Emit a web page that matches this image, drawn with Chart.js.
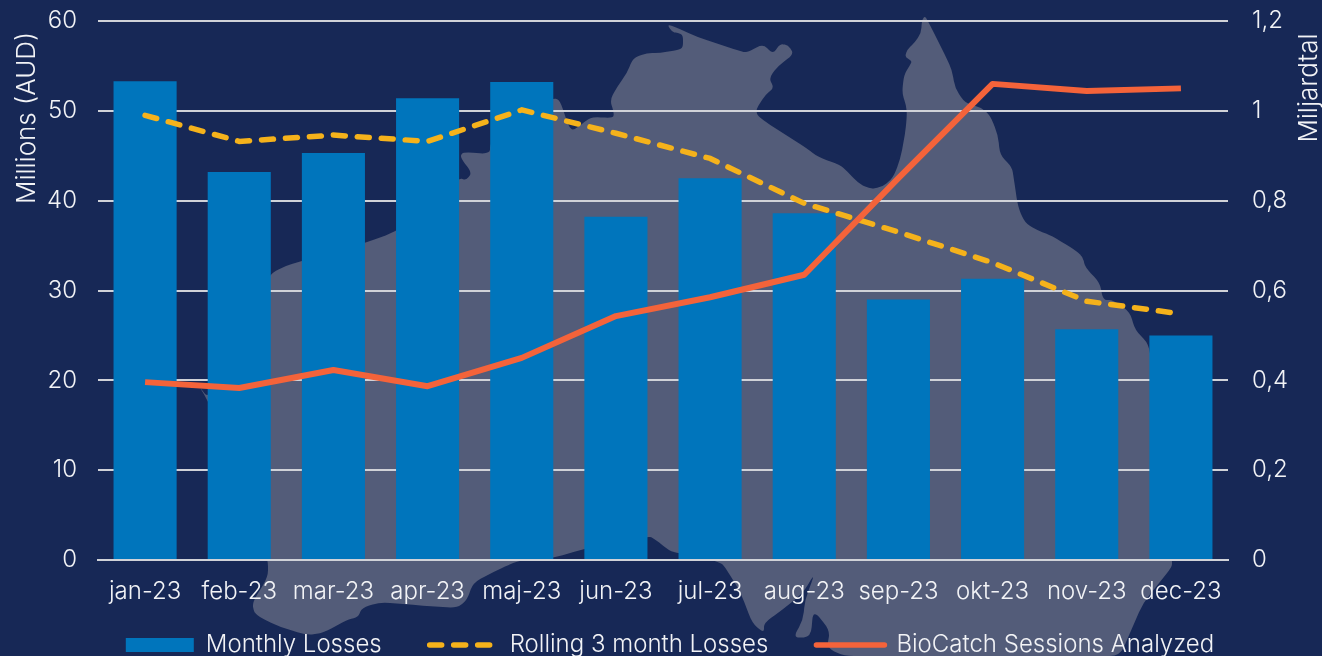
<!DOCTYPE html>
<html>
<head>
<meta charset="utf-8">
<style>
html,body{margin:0;padding:0;width:1322px;height:656px;overflow:hidden;background:#172856}
#map{position:absolute;left:0;top:0}
#c{position:absolute;left:0;top:0}
</style>
<script src="https://cdn.jsdelivr.net/npm/chart.js@4"></script>
</head>
<body>
<svg id="map" width="1322" height="656" viewBox="0 0 1322 656">
<path id="land" fill="#535C79"/>
</svg>
<canvas id="c" width="1322" height="656"></canvas>
<script>
const categories = ["jan-23","feb-23","mar-23","apr-23","maj-23","jun-23","jul-23","aug-23","sep-23","okt-23","nov-23","dec-23"];
const monthlyLosses = [53.3,43.2,45.3,51.4,53.2,38.2,42.5,38.6,29.0,31.3,25.7,25.0];
const rollingLosses = [49.5,46.6,47.3,46.6,50.1,47.5,44.7,39.7,36.5,33.1,28.8,27.4];
const sessionsAnalyzed = [0.396,0.383,0.423,0.387,0.45,0.543,0.585,0.635,0.85,1.06,1.044,1.05];
const leftTitle = "Millions (AUD)";
const rightTitle = "Miljardtal";

/* decorative background silhouette, not chart data */
const coast = "199,386 208,398 270,274 285,266 302,261 365,243 395,232 430,205 459,178 466,180 472,173 460,157 463,152 490,154 490,143 530,110 553,98 560,100 568,125 573,131 587,120 593,117 613,118 614,113 610,100 617,87 627,73 633,58 647,53 660,53 677,50 683,48 683,35 678,33 672,32 667,24 680,29 697,37 743,52 748,52 763,44 773,54 780,44 788,45 794,54 778,66 769,78 774,88 765,95 754,113 770,125 805,147 818,157 840,165 848,172 858,183 870,189 882,187 893,178 900,160 905,135 907,115 906,105 902,93 904,75 910,65 912,61 905,57 907,50 915,42 921,33 922,20 925,16 930,25 945,55 952,70 955,88 965,103 980,107 990,115 998,135 1000,155 1012,167 1014,180 1018,207 1025,223 1037,230 1052,236 1075,250 1083,257 1085,267 1100,283 1103,300 1113,300 1130,312 1135,330 1149,344 1172,560 1172,567 1143,603 1120,656 844,656 827,648 830,630 813,610 811,637 793,638 803,620 805,600 815,573 803,593 782,610 764,623 764,633 752,623 741,593 725,567 721,563 705,558 678,553 670,551 652,537 647,537 584,549 553,558 523,560 513,563 493,572 473,583 467,600 457,608 413,605 380,602 362,608 358,617 347,620 323,633 307,635 280,627 255,615 252,603 268,577 268,560 208,401"
  .split(" ").map(p=>p.split(",").map(Number));
(function(){
  const n = coast.length; let d = "";
  for(let i=0;i<n;i++){
    const p=coast[(i+n-1)%n], q=coast[i], r=coast[(i+1)%n];
    const cut=(a,b)=>{const L=Math.hypot(a[0]-b[0],a[1]-b[1]);const t=Math.min(0.4,10/L);return [b[0]+(a[0]-b[0])*t,b[1]+(a[1]-b[1])*t];};
    const s=cut(p,q), e=cut(r,q);
    d += (i?"L":"M")+s[0].toFixed(1)+" "+s[1].toFixed(1)+"Q"+q[0]+" "+q[1]+" "+e[0].toFixed(1)+" "+e[1].toFixed(1);
  }
  document.getElementById("land").setAttribute("d",d+"Z");
})();

const FONT = "Inter";
const WEIGHT = 300;
const TICK = {family:FONT,size:24,weight:WEIGHT};
const TEXT = "#F2F3F6";
const GRID = "#D0D2D8";

const titlesPlugin = {
  id: "placedTitles",
  afterDraw(chart){
    const ctx = chart.ctx;
    ctx.save();
    ctx.fillStyle = TEXT;
    ctx.font = WEIGHT + " 26px " + FONT;
    ctx.textAlign = "center";
    ctx.textBaseline = "middle";
    ctx.save(); ctx.translate(27,118); ctx.rotate(-Math.PI/2); ctx.fillText(leftTitle,0,0); ctx.restore();
    ctx.save(); ctx.translate(1309,88); ctx.rotate(-Math.PI/2); ctx.fillText(rightTitle,0,0); ctx.restore();
    ctx.restore();
  }
};
const legendPlace = {
  id: "legendPlace",
  beforeLayout(chart){
    const lg = chart.legend;
    if(lg && !lg._wrapped){
      const f = lg.fit;
      lg.fit = function(){ f.call(this); this.height = 30; };
      lg._wrapped = true;
    }
  },
  beforeDraw(chart){
    const lg = chart.legend;
    lg.top = 647 - 48 - 14;
    lg.left = 9; lg.right = 1322 + 9;
  }
};

const canvas = document.getElementById("c");

function noEdgePadding(s,w){ s.width = w; s.paddingTop = 0; s.paddingBottom = 0; }

new Chart(canvas, {
  data: {
    labels: categories,
    datasets: [
      {type:"line",label:"BioCatch Sessions Analyzed",data:sessionsAnalyzed,yAxisID:"y1",borderColor:"#F4633A",backgroundColor:"#F4633A",borderWidth:6,pointRadius:0,tension:0,borderJoinStyle:"round",order:1},
      {type:"line",label:"Rolling 3 month Losses",data:rollingLosses,yAxisID:"y",borderColor:"#F5B21B",backgroundColor:"#F5B21B",borderWidth:5.5,borderDash:[12,12],borderCapStyle:"round",pointRadius:0,tension:0,order:2},
      {type:"bar",label:"Monthly Losses",data:monthlyLosses,yAxisID:"y",backgroundColor:"#0075BC",barPercentage:0.67,categoryPercentage:1,order:3}
    ]
  },
  plugins:[titlesPlugin,legendPlace],
  options: {
    responsive:false,
    animation:false,
    layout:{padding:{top:21,left:0,right:0,bottom:0}},
    scales:{
      x:{
        grid:{display:false},
        border:{display:true,color:GRID,width:2},
        ticks:{color:TEXT,font:TICK,padding:9,maxRotation:0,autoSkip:false},
        afterFit(s){ s.height = 66; }
      },
      y:{
        position:"left",min:0,max:60,
        grid:{color:GRID,lineWidth:2,drawTicks:false},
        border:{display:false},
        ticks:{stepSize:10,color:TEXT,font:TICK,padding:21},
        afterFit(s){ noEdgePadding(s,98); }
      },
      y1:{
        position:"right",min:0,max:1.2,
        grid:{display:false,drawTicks:false},
        border:{display:false},
        ticks:{stepSize:0.2,color:TEXT,font:TICK,padding:24,
          callback(v){ return String(Math.round(v*10)/10).replace(".",","); }},
        afterFit(s){ noEdgePadding(s,94); }
      }
    },
    plugins:{
      tooltip:{enabled:false},
      legend:{
        display:true,position:"bottom",
        labels:{
          usePointStyle:true,pointStyleWidth:68,boxHeight:14,padding:48,
          color:TEXT,font:TICK,
          generateLabels(chart){
            return [2,1,0].map(i=>{
              const d = chart.data.datasets[i];
              const isLine = d.type==="line";
              return {text:d.label,datasetIndex:i,hidden:false,fontColor:TEXT,
                fillStyle:d.backgroundColor,strokeStyle:isLine?d.borderColor:d.backgroundColor,
                lineWidth:isLine?5.5:0,lineDash:d.borderDash||[],lineCap:"round",
                pointStyle:isLine?"line":"rect"};
            });
          }
        }
      }
    }
  }
});
</script>
</body>
</html>
